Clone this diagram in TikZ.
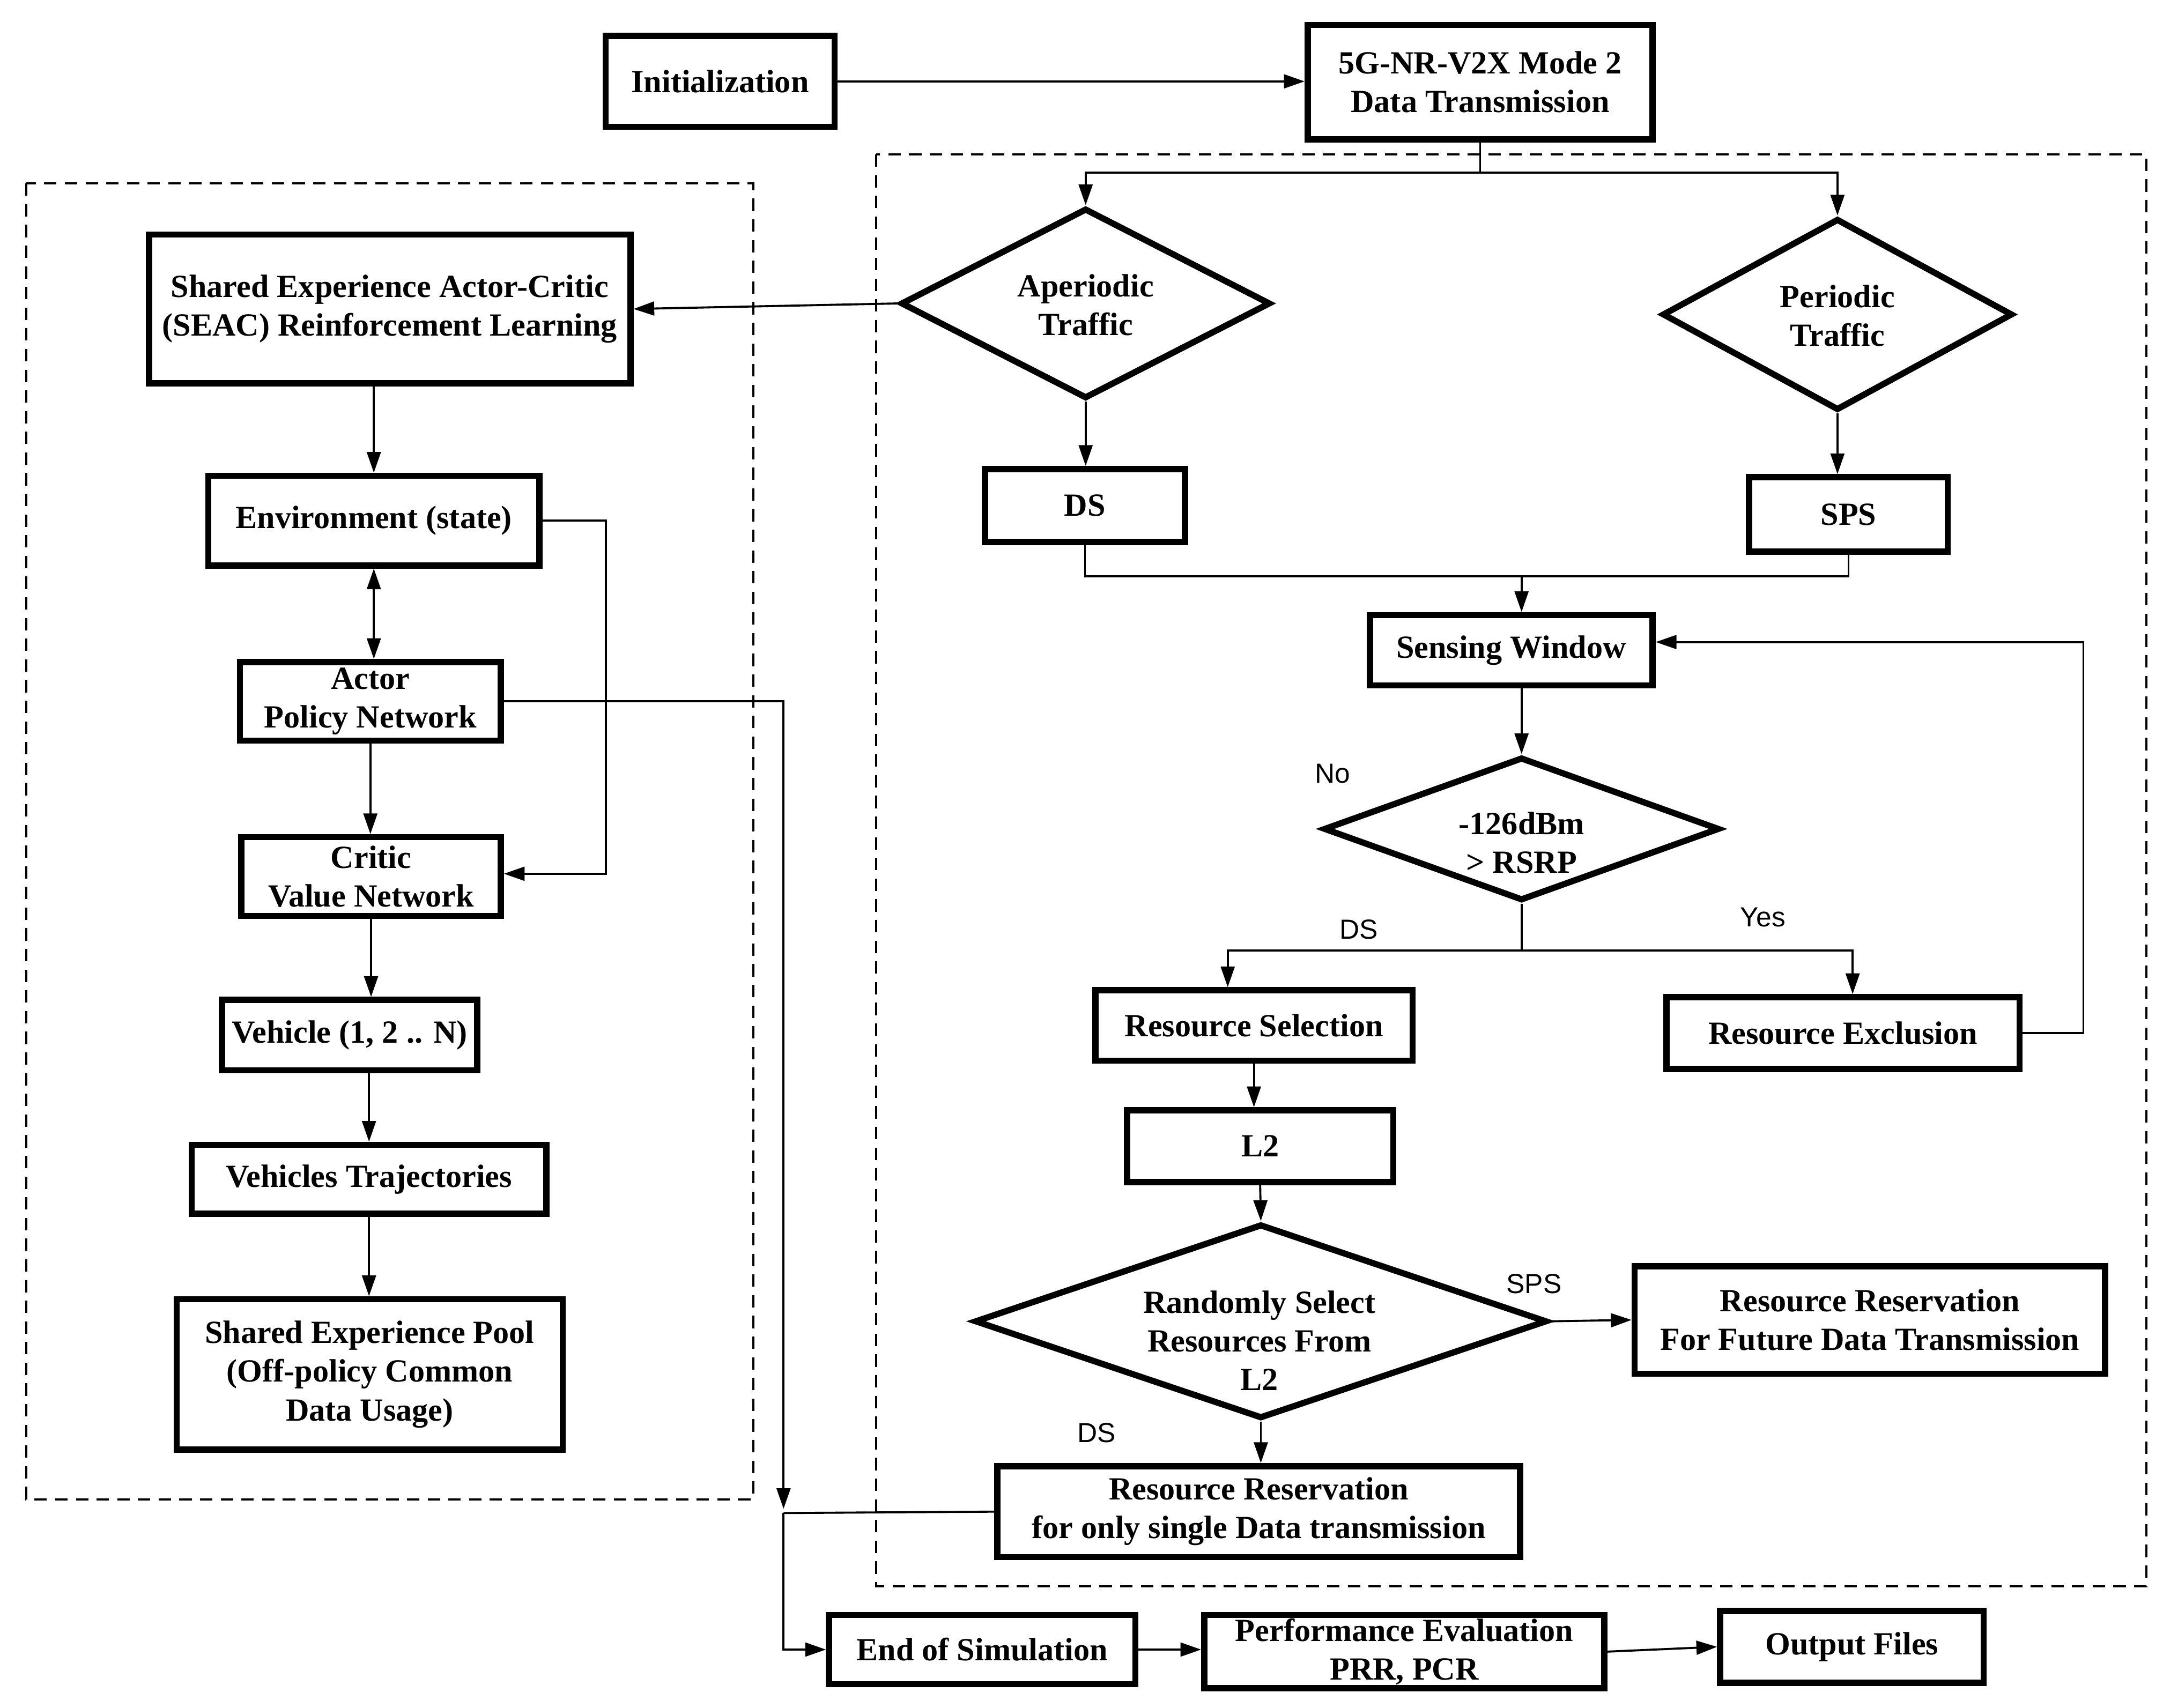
\documentclass[tikz,border=0pt]{standalone}
\usepackage{fontspec}
\setmainfont{Liberation Serif}
\setsansfont{Liberation Sans}
\usetikzlibrary{shapes.geometric,arrows.meta,calc}
\begin{document}
\begin{tikzpicture}[x=0.5pt,y=-0.5pt,
  blk/.style 2 args={draw, line width=2.25pt, minimum width=#1*0.5pt, minimum height=#2*0.5pt, inner sep=0pt, align=center, font=\fontsize{11.7pt}{14pt}\selectfont\bfseries},
  dia/.style 2 args={draw, shape=diamond, line width=2.25pt, minimum width=#1*0.5pt, minimum height=#2*0.5pt, inner sep=0pt},
  dtxt/.style={align=center, inner sep=0pt, font=\fontsize{11.7pt}{14pt}\selectfont\bfseries},
  lbl/.style={inner sep=0pt, font=\sffamily\fontsize{10pt}{12pt}\selectfont},
  conn/.style={line width=0.75pt},
  arr/.style={conn, -{Triangle[length=7.5pt,width=5pt]}},
  arrtwo/.style={conn, {Triangle[length=7.5pt,width=5pt]}-{Triangle[length=7.5pt,width=5pt]}},
  grp/.style={line width=0.8pt, dash pattern=on 4.5pt off 3pt}
]
\useasboundingbox (0,0) rectangle (1568,1238);

% dashed groups
\draw[grp] (19,133) rectangle (546,1087);
\draw[grp] (635,112) rectangle (1556,1150);

% top
\node[blk={166}{66}] (init) at (522,59) {Initialization};
\node[blk={250}{83}] (g5) at (1073,59.5) {5G-NR-V2X Mode 2\\Data Transmission};

% left column
\node[blk={349}{108}] (seac) at (282.5,224) {Shared Experience Actor-Critic\\(SEAC) Reinforcement Learning};
\node[blk={240}{65}] (env) at (271,377.5) {Environment (state)};
\node[blk={189}{57}] (actor) at (268.5,508.5) {Actor\\Policy Network};
\node[blk={188}{57}] (critic) at (269,635.5) {Critic\\Value Network};
\node[blk={185}{51}] (veh) at (253.5,750.5) {Vehicle (1, 2 .. N)};
\node[blk={257}{50}] (traj) at (267.5,855) {Vehicles Trajectories};
\node[blk={280}{109}] (pool) at (268,996.5) {Shared Experience Pool\\(Off-policy Common\\Data Usage)};

% right part
\node[dia={268}{138}] (ap) at (787,220) {};
\node[dtxt] (aptx) at (787,221) {Aperiodic\\Traffic};
\node[dia={254}{139}] (per) at (1332,228) {};
\node[dtxt] (pertx) at (1332,229) {Periodic\\Traffic};
\node[blk={145}{53}] (ds) at (786.5,366.5) {DS};
\node[blk={144}{54}] (sps) at (1340,373) {SPS};
\node[blk={205}{51}] (sense) at (1095.5,471.5) {Sensing Window};
\node[dia={287}{104}] (rsrp) at (1103,601) {};
\node[dtxt] (rsrptx) at (1103,611) {-126dBm\\> RSRP};
\node[blk={230}{51}] (rsel) at (909,743.5) {Resource Selection};
\node[blk={256}{52}] (rexc) at (1336,749) {Resource Exclusion};
\node[blk={193}{52}] (l2) at (913.5,831) {L2};
\node[dia={415}{141}] (rand) at (914,958) {};
\node[dtxt] (randtx) at (913,972) {Randomly Select\\Resources From\\L2};
\node[blk={341}{78}] (fut) at (1355.5,957) {Resource Reservation\\For Future Data Transmission};
\node[blk={379}{66}] (single) at (912.5,1096) {Resource Reservation\\for only single Data transmission};

% bottom row
\node[blk={222}{50}] (ends) at (712,1196) {End of Simulation};
\node[blk={290}{53}] (perf) at (1018,1197.5) {Performance Evaluation\\PRR, PCR};
\node[blk={191}{52}] (outf) at (1342.5,1194) {Output Files};

% labels
\node[lbl] (lno) at (966,561) {No};
\node[lbl] (lyes) at (1278,665) {Yes};
\node[lbl] (lds1) at (985,674) {DS};
\node[lbl] (lsps) at (1112,931) {SPS};
\node[lbl] (lds2) at (795,1039) {DS};

% coordinates
\coordinate (split) at (1073,125);
\coordinate (merge) at (1103,418);
\coordinate (nsplit) at (1103,689);
\coordinate (jn) at (568,1097);

% connectors: top
\draw[arr] (init.east) -- (init.east -| g5.west);
\draw[arr] (g5.south) -- (split) -| (ap.north);
\draw[arr] (split) -| (per.north);
\draw[arr] (ap.west) -- (seac.east);
\draw[arr] (ap.south) -- (ap.south |- ds.north);
\draw[arr] (per.south) -- (per.south |- sps.north);
\draw[conn] (ds.south) |- (merge) -| (sps.south);
\draw[arr] (merge) -- (merge |- sense.north);
\draw[arr] (rsrp.north |- sense.south) -- (rsrp.north);
\draw[arr] (rsrp.south) -- (nsplit) -| ($(rsel.north)+(-19,0)$);
\draw[arr] (nsplit) -| ($(rexc.north)+(7,0)$);
\draw[arr] (rexc.east) -- ++(44,0) |- ($(sense.east)+(0,-6)$);
\draw[arr] (rsel.south) -- (rsel.south |- l2.north);
\draw[arr] (l2.south) -- (rand.north);
\draw[arr] (rand.east) -- (fut.west);
\draw[arr] (rand.south) -- (rand.south |- single.north);

% left column connectors
\draw[arr] (env.north |- seac.south) -- (env.north);
\draw[arrtwo] (env.south) -- (env.south |- actor.north);
\draw[arr] (actor.south) -- (actor.south |- critic.north);
\draw[arr] (critic.south) -- (critic.south |- veh.north);
\draw[arr] (traj.north |- veh.south) -- (traj.north);
\draw[arr] (traj.south) -- (traj.south |- pool.north);
\draw[arr] (env.east) -- ++(46,0) |- ($(critic.east)+(0,-2)$);

% to end of simulation
\draw[arr] (actor.east) -| ($(jn)+(0,-3)$);
\draw[conn] (single.west) -- (jn);
\draw[arr] (jn) |- (ends.west);
\draw[arr] (ends.east) -- (ends.east -| perf.west);
\draw[arr] (perf.east) -- (outf.west);
\end{tikzpicture}
\end{document}
